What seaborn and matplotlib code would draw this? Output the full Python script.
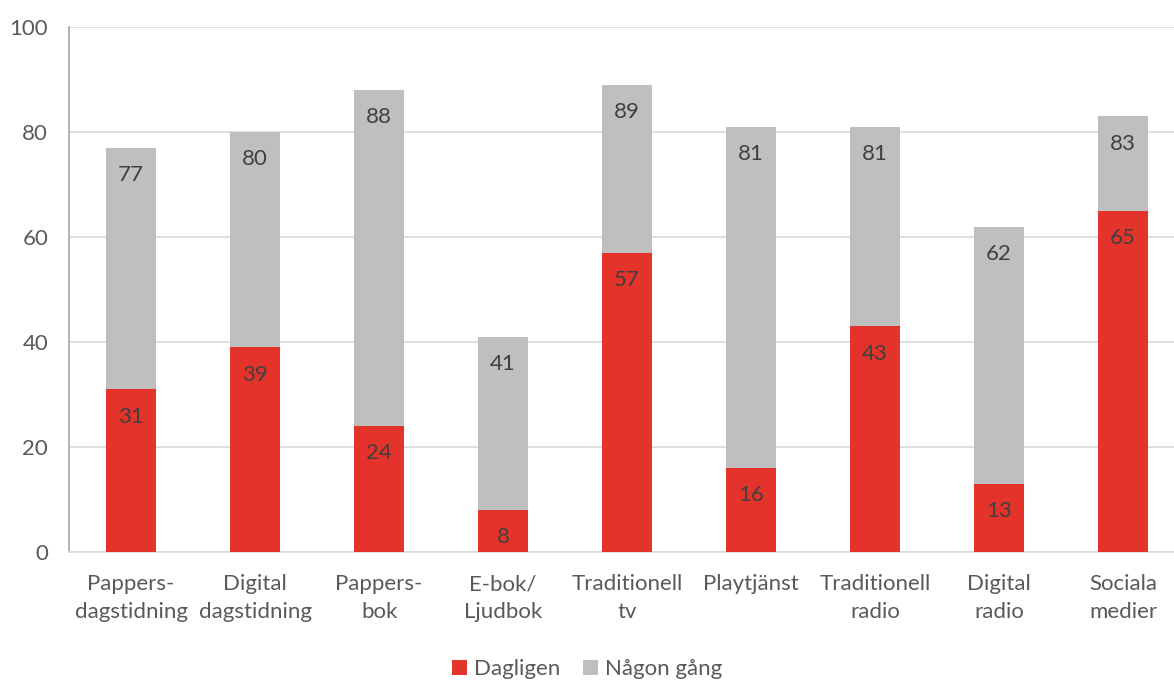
import numpy as np
import pandas as pd
import matplotlib
matplotlib.use("Agg")
import matplotlib.pyplot as plt
import seaborn as sns

categories = ["Pappers-\ndagstidning", "Digital\ndagstidning", "Pappers-\nbok",
              "E-bok/\nLjudbok", "Traditionell\ntv", "Playtjänst",
              "Traditionell\nradio", "Digital\nradio", "Sociala\nmedier"]
dagligen = [31, 39, 24, 8, 57, 16, 43, 13, 65]
nagon_gang = [77, 80, 88, 41, 89, 81, 81, 62, 83]

RED = "#E4332A"
GREY = "#BFBFBF"
TXT = "#595959"

sns.set_theme(style="white")
plt.rcParams['font.family'] = ['Lato', 'DejaVu Sans']

df = pd.DataFrame({"kat": categories, "Dagligen": dagligen, "Någon gång": nagon_gang})

fig = plt.figure(figsize=(11.74, 6.8), dpi=100)
ax = fig.add_axes([0.0588, 0.188, 0.9412, 0.772])

# overlapping bars: grey total behind, red daily in front
sns.barplot(data=df, x="kat", y="Någon gång", color=GREY, width=0.40,
            saturation=1, ax=ax, label="Någon gång", zorder=2, linewidth=0)
sns.barplot(data=df, x="kat", y="Dagligen", color=RED, width=0.40,
            saturation=1, ax=ax, label="Dagligen", zorder=3, linewidth=0)
handles, labels = ax.get_legend_handles_labels()
if ax.get_legend() is not None:
    ax.get_legend().remove()

for i in range(len(categories)):
    for v in (nagon_gang[i], dagligen[i]):
        ax.annotate(str(v), (i, v), xytext=(0, -19.5), textcoords="offset points",
                    ha="center", va="center", fontsize=16, color="#404040", zorder=5)

ax.set_ylim(0, 100)
ax.set_yticks(range(0, 101, 20))
ax.set_xlim(-0.5, 8.41)
ax.yaxis.grid(True, color="#D9D9D9", linewidth=1.2, zorder=0)
ax.set_axisbelow(True)
ax.set_xlabel("")
ax.set_ylabel("")
for s in ("top", "right"):
    ax.spines[s].set_visible(False)
ax.spines["left"].set_color("#A6A6A6")
ax.spines["bottom"].set_color("#D9D9D9")
ax.spines["left"].set_linewidth(1.2)
ax.spines["bottom"].set_linewidth(1.2)
ax.tick_params(axis="both", length=0, labelsize=16, colors=TXT)
ax.tick_params(axis="x", pad=16)
ax.tick_params(axis="y", pad=15)
for t in ax.get_xticklabels():
    t.set_linespacing(1.5)

order = [labels.index("Dagligen"), labels.index("Någon gång")]
fig.legend([handles[k] for k in order], [labels[k] for k in order],
           loc="center", bbox_to_anchor=(0.5, 0.016), ncol=2, frameon=False,
           fontsize=16, handlelength=0.7, handleheight=0.7,
           handletextpad=0.3, columnspacing=1.0, labelcolor=TXT)

fig.savefig("out.png", dpi=100)
